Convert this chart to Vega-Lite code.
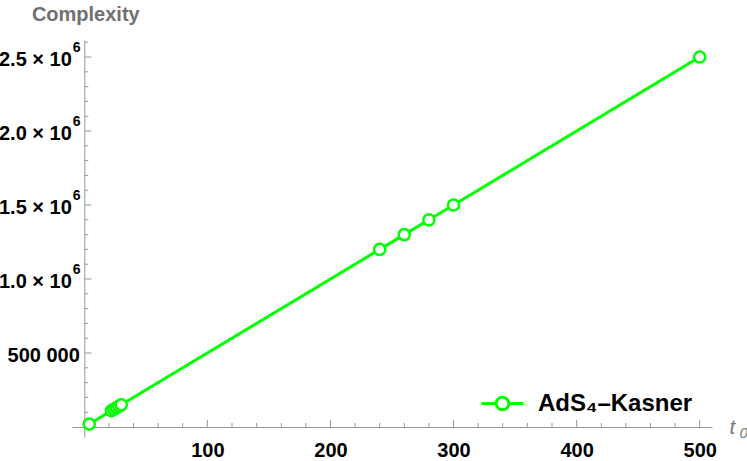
{
  "$schema": "https://vega.github.io/schema/vega-lite/v6.json",
  "width": 640,
  "height": 397,
  "autosize": "none",
  "padding": {"left": 72, "top": 40, "right": 35, "bottom": 24},
  "background": "white",
  "config": {"view": {"stroke": null}, "font": "Liberation Sans"},
  "datasets": {
    "points": [
      {"t0": 4, "complexity": 20000, "series": "AdS₄–Kasner"},
      {"t0": 22, "complexity": 110000, "series": "AdS₄–Kasner"},
      {"t0": 24, "complexity": 120000, "series": "AdS₄–Kasner"},
      {"t0": 26, "complexity": 130000, "series": "AdS₄–Kasner"},
      {"t0": 28, "complexity": 140000, "series": "AdS₄–Kasner"},
      {"t0": 30, "complexity": 150000, "series": "AdS₄–Kasner"},
      {"t0": 240, "complexity": 1200000, "series": "AdS₄–Kasner"},
      {"t0": 260, "complexity": 1300000, "series": "AdS₄–Kasner"},
      {"t0": 280, "complexity": 1400000, "series": "AdS₄–Kasner"},
      {"t0": 300, "complexity": 1500000, "series": "AdS₄–Kasner"},
      {"t0": 500, "complexity": 2500000, "series": "AdS₄–Kasner"}
    ],
    "xticks": [
      {"t0": 20, "major": false}, {"t0": 40, "major": false}, {"t0": 60, "major": false}, {"t0": 80, "major": false}, {"t0": 100, "major": true},
      {"t0": 120, "major": false}, {"t0": 140, "major": false}, {"t0": 160, "major": false}, {"t0": 180, "major": false}, {"t0": 200, "major": true},
      {"t0": 220, "major": false}, {"t0": 240, "major": false}, {"t0": 260, "major": false}, {"t0": 280, "major": false}, {"t0": 300, "major": true},
      {"t0": 320, "major": false}, {"t0": 340, "major": false}, {"t0": 360, "major": false}, {"t0": 380, "major": false}, {"t0": 400, "major": true},
      {"t0": 420, "major": false}, {"t0": 440, "major": false}, {"t0": 460, "major": false}, {"t0": 480, "major": false}, {"t0": 500, "major": true}
    ],
    "yticks": [
      {"complexity": 100000, "major": false}, {"complexity": 200000, "major": false}, {"complexity": 300000, "major": false}, {"complexity": 400000, "major": false}, {"complexity": 500000, "major": true},
      {"complexity": 600000, "major": false}, {"complexity": 700000, "major": false}, {"complexity": 800000, "major": false}, {"complexity": 900000, "major": false}, {"complexity": 1000000, "major": true},
      {"complexity": 1100000, "major": false}, {"complexity": 1200000, "major": false}, {"complexity": 1300000, "major": false}, {"complexity": 1400000, "major": false}, {"complexity": 1500000, "major": true},
      {"complexity": 1600000, "major": false}, {"complexity": 1700000, "major": false}, {"complexity": 1800000, "major": false}, {"complexity": 1900000, "major": false}, {"complexity": 2000000, "major": true},
      {"complexity": 2100000, "major": false}, {"complexity": 2200000, "major": false}, {"complexity": 2300000, "major": false}, {"complexity": 2400000, "major": false}, {"complexity": 2500000, "major": true},
      {"complexity": 2600000, "major": false}
    ]
  },
  "resolve": {"axis": {"x": "independent", "y": "independent"}},
  "layer": [
    {
      "data": {"name": "points"},
      "mark": {"type": "point", "opacity": 0},
      "encoding": {
        "x": {
          "field": "t0",
          "type": "quantitative",
          "scale": {"domain": [-10, 510], "nice": false, "zero": false},
          "axis": {
            "orient": "bottom",
            "offset": -10,
            "domain": false,
            "ticks": false,
            "labels": false,
            "grid": false,
            "title": "0",
            "titleFont": "Liberation Sans",
            "titleFontStyle": "italic",
            "titleFontWeight": "normal",
            "titleFontSize": 15,
            "titleColor": "#777777",
            "titleAlign": "left",
            "titleBaseline": "alphabetic",
            "titleAnchor": null,
            "titleX": 667,
            "titleY": 10
          }
        },
        "y": {
          "field": "complexity",
          "type": "quantitative",
          "scale": {"domain": [-67600, 2615000], "nice": false, "zero": false},
          "axis": {
            "orient": "left",
            "values": [1000000, 1500000, 2000000, 2500000],
            "labelExpr": "'6'",
            "offset": -12.3,
            "domain": false,
            "ticks": false,
            "grid": false,
            "labelFont": "Liberation Sans",
            "labelFontWeight": "bold",
            "labelFontSize": 14,
            "labelColor": "black",
            "labelAlign": "left",
            "labelPadding": 12,
            "labelOffset": -10,
            "labelOverlap": false,
            "labelFlush": false,
            "title": null
          }
        }
      }
    },
    {
      "data": {"name": "xticks"},
      "transform": [{"filter": "datum.major"}],
      "mark": {"type": "tick", "orient": "vertical", "color": "#999999", "thickness": 1, "size": 7, "yOffset": -3.5, "opacity": 1},
      "encoding": {
        "x": {"field": "t0", "type": "quantitative", "axis": null},
        "y": {"datum": 0, "type": "quantitative", "axis": null}
      }
    },
    {
      "data": {"name": "xticks"},
      "transform": [{"filter": "!datum.major"}],
      "mark": {"type": "tick", "orient": "vertical", "color": "#999999", "thickness": 1, "size": 4, "yOffset": -2, "opacity": 1},
      "encoding": {
        "x": {"field": "t0", "type": "quantitative", "axis": null},
        "y": {"datum": 0, "type": "quantitative", "axis": null}
      }
    },
    {
      "data": {"name": "yticks"},
      "transform": [{"filter": "datum.major"}],
      "mark": {"type": "tick", "orient": "horizontal", "color": "#999999", "thickness": 1, "size": 7, "xOffset": 3.5, "opacity": 1},
      "encoding": {
        "y": {"field": "complexity", "type": "quantitative", "axis": null},
        "x": {"datum": 0, "type": "quantitative", "axis": null}
      }
    },
    {
      "data": {"name": "yticks"},
      "transform": [{"filter": "!datum.major"}],
      "mark": {"type": "tick", "orient": "horizontal", "color": "#999999", "thickness": 1, "size": 4, "xOffset": 2, "opacity": 1},
      "encoding": {
        "y": {"field": "complexity", "type": "quantitative", "axis": null},
        "x": {"datum": 0, "type": "quantitative", "axis": null}
      }
    },
    {
      "data": {"name": "points"},
      "mark": {"type": "line", "strokeWidth": 3},
      "encoding": {
        "x": {
          "field": "t0",
          "type": "quantitative",
          "axis": {
            "orient": "bottom",
            "values": [100, 200, 300, 400, 500],
            "format": "d",
            "offset": -10,
            "grid": false,
            "ticks": false,
            "domainColor": "#999999",
            "domainWidth": 1,
            "labelFont": "Liberation Sans",
            "labelFontWeight": "bold",
            "labelFontSize": 20,
            "labelColor": "black",
            "labelPadding": 13,
            "labelOverlap": false,
            "labelFlush": false,
            "title": "t",
            "titleFont": "Liberation Sans",
            "titleFontStyle": "italic",
            "titleFontWeight": "normal",
            "titleFontSize": 21,
            "titleColor": "#777777",
            "titleAlign": "left",
            "titleBaseline": "alphabetic",
            "titleAnchor": null,
            "titleX": 657,
            "titleY": 6
          }
        },
        "y": {
          "field": "complexity",
          "type": "quantitative",
          "axis": {
            "orient": "left",
            "values": [500000, 1000000, 1500000, 2000000, 2500000],
            "labelExpr": "datum.value === 500000 ? '500 000' : format(datum.value / 1000000, '.1f') + ' × 10'",
            "offset": -12.3,
            "grid": false,
            "ticks": false,
            "domainColor": "#999999",
            "domainWidth": 1,
            "labelFont": "Liberation Sans",
            "labelFontWeight": "bold",
            "labelFontSize": 20,
            "labelColor": "black",
            "labelPadding": {"condition": {"test": "datum.value === 500000", "value": 5}, "value": 13},
            "labelOffset": 2,
            "labelOverlap": false,
            "labelFlush": false,
            "title": "Complexity",
            "titleFont": "Liberation Sans",
            "titleFontWeight": "bold",
            "titleFontSize": 20,
            "titleColor": "#707070",
            "titleAngle": 0,
            "titleAlign": "center",
            "titleBaseline": "alphabetic",
            "titleAnchor": null,
            "titleX": 1,
            "titleY": -20
          }
        },
        "color": {
          "field": "series",
          "type": "nominal",
          "scale": {"range": ["#00ff00"]},
          "legend": {
            "orient": "none",
            "legendX": 408,
            "legendY": 341,
            "title": null,
            "symbolType": "M-1,0L-0.3,0M0.3,0L1,0M-0.3,0A0.3,0.3,0,1,1,0.3,0A0.3,0.3,0,1,1,-0.3,0Z",
            "symbolSize": 1764,
            "symbolStrokeWidth": 3,
            "symbolFillColor": "white",
            "symbolStrokeColor": "#00ff00",
            "symbolOpacity": 1,
            "labelFont": "Liberation Sans",
            "labelFontWeight": "bold",
            "labelFontSize": 24,
            "labelColor": "black",
            "labelOffset": 13
          }
        }
      }
    },
    {
      "data": {"name": "points"},
      "mark": {"type": "point", "shape": "circle", "filled": false, "fill": "white", "fillOpacity": 1, "stroke": "#00ff00", "strokeWidth": 2.5, "size": 125, "opacity": 1},
      "encoding": {
        "x": {"field": "t0", "type": "quantitative", "axis": null},
        "y": {"field": "complexity", "type": "quantitative", "axis": null}
      }
    }
  ]
}
